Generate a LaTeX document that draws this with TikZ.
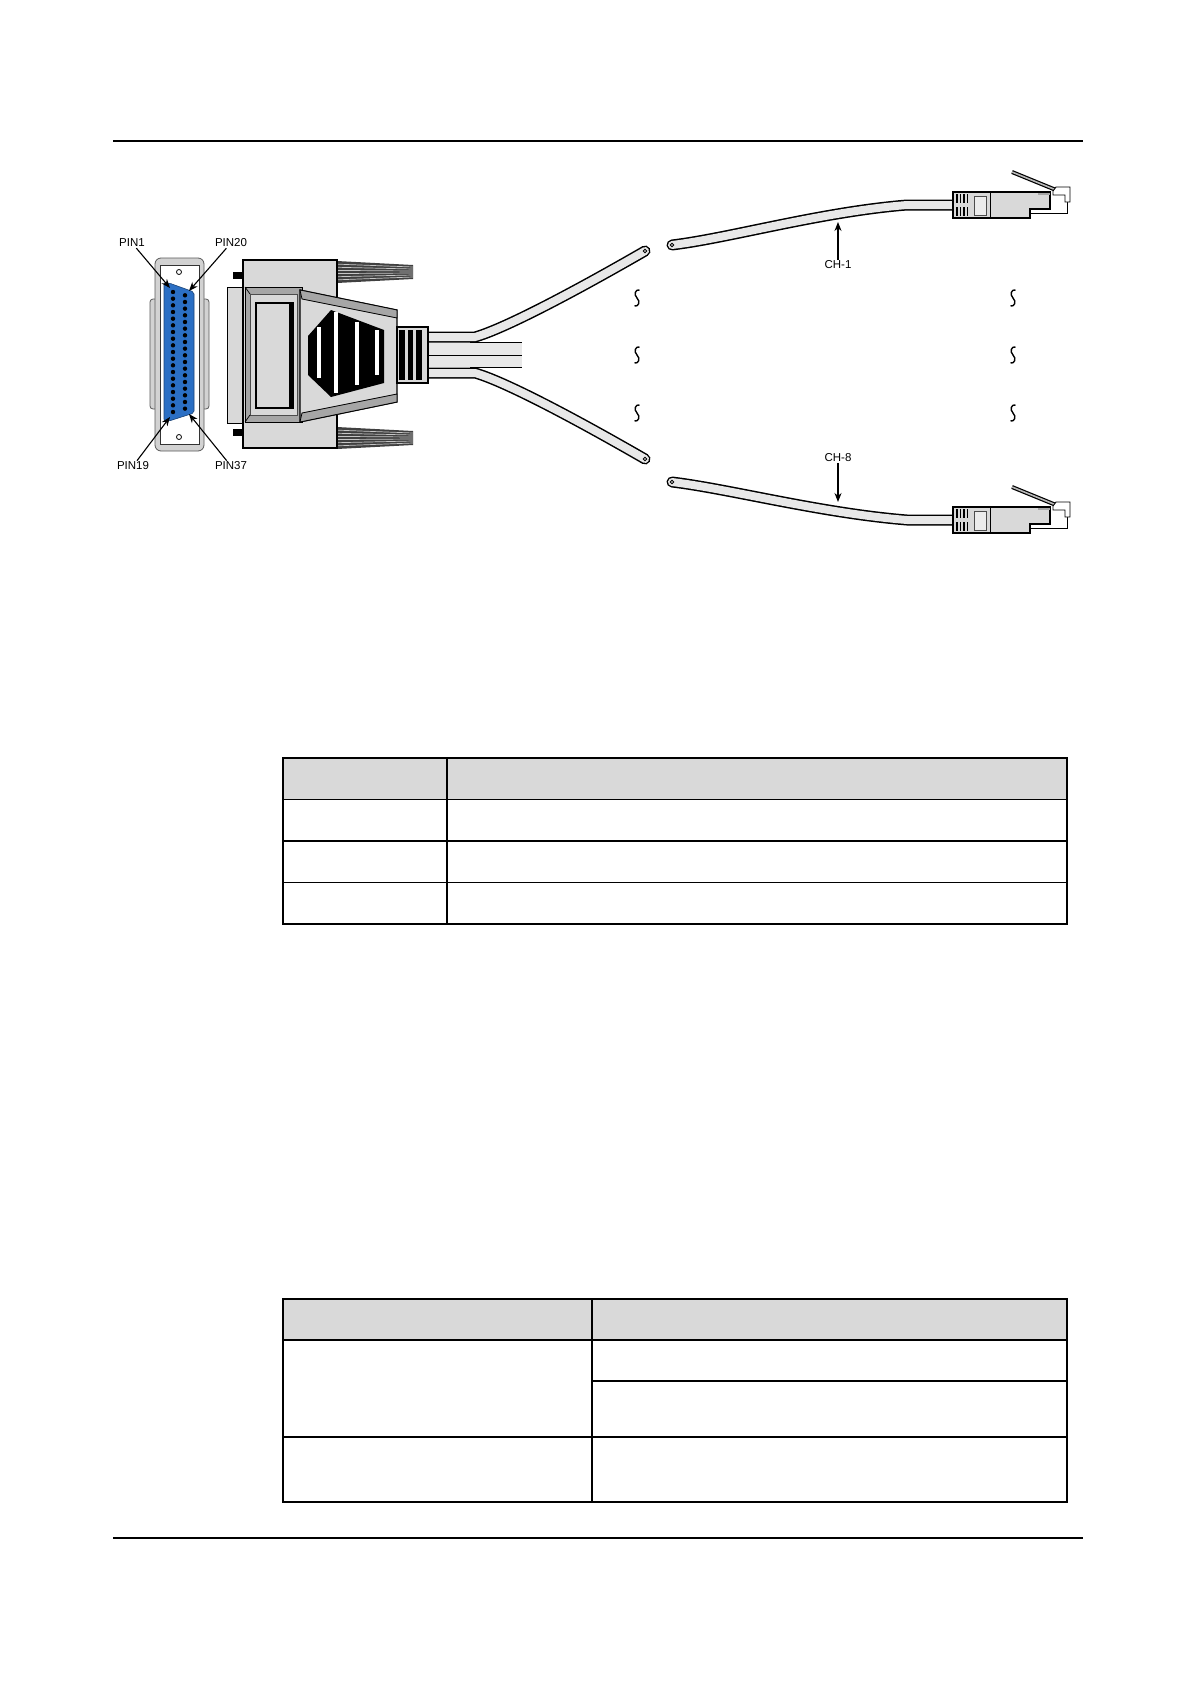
\documentclass[tikz,border=0pt]{standalone}
\usepackage{fontspec}
\setmainfont{Liberation Sans}
\usetikzlibrary{arrows.meta}
\definecolor{lg}{HTML}{D9D9D9}
\definecolor{mg}{HTML}{A6A6A6}
\definecolor{cab}{HTML}{E8E8E8}
\definecolor{pinblue}{HTML}{2B6FC4}
\definecolor{shellg}{HTML}{D2D2D2}
\begin{document}
\begin{tikzpicture}[x=1pt,y=-1pt,
  lbl/.style={font=\fontsize{11.5}{13}\selectfont, inner sep=1pt},
  arr/.style={-{Stealth[length=9pt,width=7pt]}, line width=1.1pt},
  tbl/.style={line width=1.7pt},
  cabout/.style={line width=11pt, black, line cap=round},
  cabin/.style={line width=8pt, cab, line cap=round},
  squig/.pic={\draw[line width=1.4pt] (2.5,-8) .. controls (-1,-9) and (-4,-4) .. (0,0) .. controls (4,4) and (1,9) .. (-2.5,8);},
  rjplug/.pic={
    \draw[line width=4pt, black] (59,-33) -- (103,-15);
    \draw[line width=1.6pt, gray!55] (59,-33) -- (103,-15);
    \filldraw[fill=lg, draw=black, line width=1.1pt] (0,-13) -- (97,-13) -- (97,4) -- (77,4) -- (77,13) -- (0,13) -- cycle;
    \draw[line width=1pt] (37,-13) -- (37,13);
    \filldraw[fill=gray!15, draw=gray!60!black, line width=0.8pt] (21,-9) rectangle (33,10);
    \foreach \u in {4,7.5,11,14.5} {\draw[line width=1.5pt] (\u,-11) -- (\u,-2); \draw[line width=1.5pt] (\u,2) -- (\u,11);}
    \draw[line width=0.8pt] (77,8) -- (114,8) -- (114,-3);
    \fill[mg] (85,-12.4) rectangle (96.5,-10);
    \filldraw[fill=white, draw=black, line width=0.9pt] (100,-14) -- (103,-18) -- (117,-18) -- (117,-3) -- (112,-3) -- (112,-10) -- (100,-10) -- cycle;
  }
]
\useasboundingbox (0,0) rectangle (1190,1683);
% page rules
\draw[line width=1.3pt] (113,141) -- (1083,141);
\draw[line width=1.3pt] (113,1538) -- (1083,1538);

% ---------- connector face ----------
\filldraw[fill=shellg, draw=gray!70!black, line width=0.8pt, rounded corners=3] (150,299) rectangle (209,409);
\filldraw[fill=shellg, draw=gray!70!black, line width=0.8pt, rounded corners=6] (155,258) rectangle (204,451);
\filldraw[fill=white, draw=gray!40!black, line width=0.8pt] (160,265) rectangle (199,444);
\draw[line width=0.8pt] (179,272) circle (2.5);
\draw[line width=0.8pt] (179,437) circle (2.5);
\filldraw[fill=pinblue, draw=pinblue!60!black, line width=0.6pt, rounded corners=2] (164,283) -- (169,283) -- (194,292) -- (194,413) -- (169,421) -- (164,421) -- cycle;
\foreach \i in {0,...,18} \fill (173,{292+\i*6.667}) circle (2.2);
\foreach \i in {0,...,17} \fill (185,{295.3+\i*6.667}) circle (2.2);

\node[lbl] (pin1) at (132,243) {PIN1};
\node[lbl] (pin20) at (231,243) {PIN20};
\node[lbl] (pin19) at (133,466) {PIN19};
\node[lbl] (pin37) at (231,466) {PIN37};
\coordinate (t1) at (170,288);
\coordinate (t20) at (189,291);
\coordinate (t19) at (170,417);
\coordinate (t37) at (189,414);
\draw[arr] (pin1) -- (t1);
\draw[arr] (pin20) -- (t20);
\draw[arr] (pin19) -- (t19);
\draw[arr] (pin37) -- (t37);

% ---------- cables leaving the connector ----------
\fill[cab] (420,343) rectangle (522,367);
\draw[cabout] (420,337) -- (475,337) .. controls (500,330) and (560,300) .. (645,251);
\draw[cabin] (420,337) -- (475,337) .. controls (500,330) and (560,300) .. (645,251);
\draw[cabout] (420,373) -- (475,373) .. controls (500,380) and (560,410) .. (645,459);
\draw[cabin] (420,373) -- (475,373) .. controls (500,380) and (560,410) .. (645,459);
\draw[line width=1.6pt] (470,342.5) -- (522,342.5);
\draw[line width=1.6pt] (470,367.5) -- (522,367.5);
\draw[line width=1.8pt] (420,355.5) -- (522,355.5);
\draw[line width=0.8pt, fill=white] (645,251) circle (1.8);
\draw[line width=0.8pt, fill=white] (645,459) circle (1.8);

% ---------- connector body ----------
\filldraw[fill=lg, draw=black, line width=1pt] (227,287) rectangle (243,423);
\fill (233,272) rectangle (243,279);
\fill (233,429) rectangle (243,436);
% fins
\fill[black!75] (337,261) -- (413,265) -- (413,279) -- (337,283) -- cycle;
\foreach \k in {1,...,6} \draw[gray!45, line width=0.7pt] (337,{261+\k*3.14}) -- (413,{265+\k*2});
\fill[black!75] (337,427) -- (413,431) -- (413,445) -- (337,449) -- cycle;
\foreach \k in {1,...,6} \draw[gray!45, line width=0.7pt] (337,{427+\k*3.14}) -- (413,{431+\k*2});
% shell
\filldraw[fill=lg, draw=black, line width=1.5pt] (243,260) rectangle (337,448);
\filldraw[fill=mg, draw=black, line width=1pt] (245,287) rectangle (302,422);
\filldraw[fill=lg, draw=black!70, line width=0.7pt] (250,294) rectangle (297,415);
\draw[line width=0.7pt] (245,287) -- (250,294) (245,422) -- (250,415);
\filldraw[fill=lg, draw=black, line width=1.2pt] (256,303) rectangle (293,408);
\fill (289,304) rectangle (293,407);
% hood
\filldraw[fill=lg, draw=black, line width=1.2pt] (300,290) -- (397,310) -- (397,402) -- (300,422) -- cycle;
\filldraw[fill=mg, draw=black, line width=0.8pt] (300,290) -- (397,310) -- (397,318) -- (302,299) -- cycle;
\filldraw[fill=mg, draw=black, line width=0.8pt] (300,422) -- (397,402) -- (397,394) -- (302,413) -- cycle;
\fill (308,336) -- (331,310) -- (384,330) -- (384,383) -- (331,397) -- (308,375) -- cycle;
\fill[white] (317,327) rectangle (321,378);
\fill[white] (334,312) rectangle (338,393);
\fill[white] (355,322) rectangle (359,385);
\fill[white] (375,330) rectangle (379,375);
% strain relief
\filldraw[fill=lg, draw=black, line width=1.2pt] (397,327) rectangle (428,383);
\fill (399,330) rectangle (405,380);
\fill (408,330) rectangle (413,380);
\fill (416,330) rectangle (422,380);

% ---------- break marks ----------
\foreach \yy in {298,355,413} {
  \pic at (637,\yy) {squig};
  \pic at (1013,\yy) {squig};
}

% ---------- channel cables ----------
\draw[cabout] (672,245) .. controls (730,238) and (820,212) .. (907,205) -- (960,205);
\draw[cabin] (672,245) .. controls (730,238) and (820,212) .. (907,205) -- (960,205);
\draw[line width=0.8pt, fill=white] (672,245) circle (1.8);
\draw[cabout] (672,482) .. controls (730,489) and (820,513) .. (907,520) -- (960,520);
\draw[cabin] (672,482) .. controls (730,489) and (820,513) .. (907,520) -- (960,520);
\draw[line width=0.8pt, fill=white] (672,482) circle (1.8);
\pic at (953,205) {rjplug};
\pic at (953,520) {rjplug};

\node[lbl] (ch1) at (838,265) {CH-1};
\coordinate (c1t) at (838,222);
\draw[arr] (ch1) -- (c1t);
\node[lbl] (ch8) at (838,458) {CH-8};
\coordinate (c8t) at (838,502);
\draw[arr] (ch8) -- (c8t);

% ---------- table 1 ----------
\fill[lg] (283,758) rectangle (1067,799.5);
\draw[tbl] (283,758) rectangle (1067,924);
\draw[tbl] (283,799.5) -- (1067,799.5) (283,841) -- (1067,841) (283,882.5) -- (1067,882.5);
\draw[tbl] (447,758) -- (447,924);

% ---------- table 2 ----------
\fill[lg] (283,1299) rectangle (1067,1340);
\draw[tbl] (283,1299) rectangle (1067,1502);
\draw[tbl] (283,1340) -- (1067,1340) (592,1381) -- (1067,1381) (283,1437) -- (1067,1437);
\draw[tbl] (592,1299) -- (592,1502);
\end{tikzpicture}
\end{document}
